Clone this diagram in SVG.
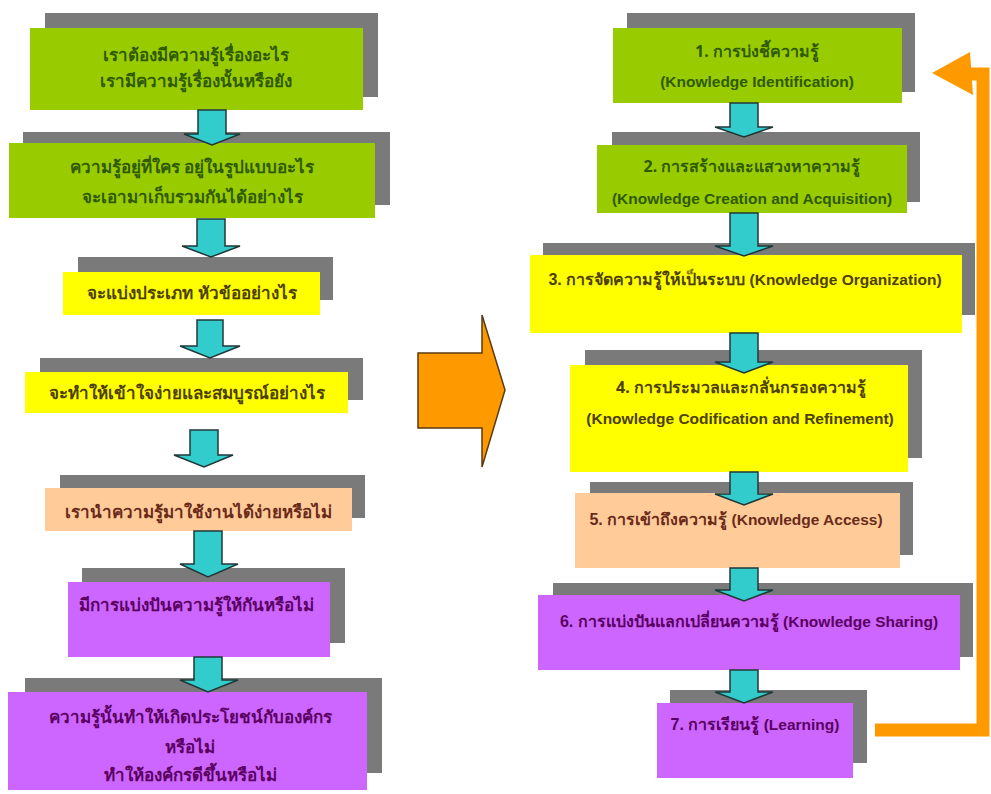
<svg xmlns="http://www.w3.org/2000/svg" width="991" height="794" viewBox="0 0 991 794">
<style>
.sh{fill:#7a7a7a}
.g{fill:#99cc00}
.y{fill:#ffff00}
.p{fill:#ffcc99}
.v{fill:#cc66ff}
text{font-family:"Noto Sans","DejaVu Sans","Liberation Sans",sans-serif;font-weight:bold;text-anchor:middle}
.th{font-size:17px}
.tr{font-size:16px}
.en{font-size:15.5px;font-family:"Liberation Sans",Arial,sans-serif}
.tg{fill:#2f5a00}
.ty{fill:#4d4000}
.tp{fill:#6a2a1a}
.tv{fill:#5a0060}
.ca{fill:#33cccc;stroke:#203838;stroke-width:1.5}
</style>
<rect width="991" height="794" fill="#ffffff"/>
<g id="L1"><rect class="sh" x="45" y="13" width="333" height="84"/><rect class="g" x="30" y="28" width="333" height="82"/>
<text class="th tg" x="196" y="61">เราต้องมีความรู้เรื่องอะไร</text><text class="th tg" x="196" y="87">เรามีความรู้เรื่องนั้นหรือยัง</text></g>
<g id="L2"><rect class="sh" x="23" y="132" width="367" height="73"/><rect class="g" x="9" y="143" width="366" height="75"/>
<text class="th tg" x="192" y="173">ความรู้อยู่ที่ใคร  อยู่ในรูปแบบอะไร</text><text class="th tg" x="192" y="203">จะเอามาเก็บรวมกันได้อย่างไร</text></g>
<g id="L3"><rect class="sh" x="78" y="257" width="255" height="43"/><rect class="y" x="63" y="272" width="257" height="43"/>
<text class="th ty" x="192" y="299">จะแบ่งประเภท หัวข้ออย่างไร</text></g>
<g id="L4"><rect class="sh" x="40" y="358" width="323" height="42"/><rect class="y" x="25" y="372" width="323" height="41"/>
<text class="th ty" x="187" y="399">จะทำให้เข้าใจง่ายและสมบูรณ์อย่างไร</text></g>
<g id="L5"><rect class="sh" x="60" y="475" width="305" height="43"/><rect class="p" x="45" y="488" width="307" height="43"/>
<text class="th tp" x="198" y="518">เรานำความรู้มาใช้งานได้ง่ายหรือไม่</text></g>
<g id="L6"><rect class="sh" x="82" y="568" width="263" height="75"/><rect class="v" x="68" y="582" width="262" height="75"/>
<text class="th tv" x="196" y="611">มีการแบ่งปันความรู้ให้กันหรือไม่</text></g>
<g id="L7"><rect class="sh" x="25" y="678" width="357" height="95"/><rect class="v" x="8" y="692" width="359" height="98"/>
<text class="th tv" x="190" y="723">ความรู้นั้นทำให้เกิดประโยชน์กับองค์กร</text><text class="th tv" x="190" y="753">หรือไม่</text><text class="th tv" x="190" y="781">ทำให้องค์กรดีขึ้นหรือไม่</text></g>
<g id="R1"><rect class="sh" x="627" y="13" width="288" height="79"/><rect class="g" x="613" y="28" width="289" height="75"/>
<text class="tr tg" x="757" y="57">1. การบ่งชี้ความรู้</text><text class="en tg" x="757" y="87">(Knowledge Identification)</text></g>
<g id="R2"><rect class="sh" x="612" y="132" width="308" height="70"/><rect class="g" x="597" y="145" width="310" height="68"/>
<text class="tr tg" x="752" y="172">2. การสร้างและแสวงหาความรู้</text><text class="en tg" x="752" y="204">(Knowledge Creation and Acquisition)</text></g>
<g id="R3"><rect class="sh" x="543" y="243" width="432" height="72"/><rect class="y" x="530" y="255" width="432" height="78"/>
<text class="en ty" x="745" y="285"><tspan class="tr">3. การจัดความรู้ให้เป็นระบบ</tspan> (Knowledge Organization)</text></g>
<g id="R4"><rect class="sh" x="585" y="350" width="337" height="108"/><rect class="y" x="570" y="365" width="338" height="107"/>
<text class="tr ty" x="741" y="393">4. การประมวลและกลั่นกรองความรู้</text><text class="en ty" x="740" y="424">(Knowledge Codification and Refinement)</text></g>
<g id="R5"><rect class="sh" x="590" y="482" width="323" height="73"/><rect class="p" x="575" y="493" width="325" height="75"/>
<text class="en tp" x="736" y="525"><tspan class="tr">5. การเข้าถึงความรู้</tspan> (Knowledge Access)</text></g>
<g id="R6"><rect class="sh" x="553" y="583" width="420" height="74"/><rect class="v" x="538" y="595" width="422" height="75"/>
<text class="en tv" x="749" y="627"><tspan class="tr">6. การแบ่งปันแลกเปลี่ยนความรู้</tspan> (Knowledge Sharing)</text></g>
<g id="R7"><rect class="sh" x="670" y="690" width="197" height="73"/><rect class="v" x="657" y="703" width="196" height="75"/>
<text class="en tv" x="755" y="730"><tspan class="tr">7. การเรียนรู้</tspan> (Learning)</text></g>
<g id="BIG"><polygon points="418,353 482,353 482,315 505,390 482,467 482,428 418,428" fill="#ff9900" stroke="#5a3a10" stroke-width="1.5"/></g>
<g id="connectors">
<polygon class="ca" points="198,110 226,110 226,134 240,134 212,145 184,134 198,134"/>
<polygon class="ca" points="197,219 225,219 225,246 240,246 211,257 182,246 197,246"/>
<polygon class="ca" points="197,320 223,320 223,346 240,346 210,358 180,346 197,346"/>
<polygon class="ca" points="190,430 218,430 218,455 233,455 204,467 174,455 190,455"/>
<polygon class="ca" points="194,531 222,531 222,564 238,564 208,577 180,564 194,564"/>
<polygon class="ca" points="194,657 222,657 222,680 238,680 208,692 180,680 194,680"/>
<polygon class="ca" points="730,103 758,103 758,127 773,127 744,137 715,127 730,127"/>
<polygon class="ca" points="730,213 758,213 758,246 773,246 744,256 715,246 730,246"/>
<polygon class="ca" points="730,333 758,333 758,362 773,362 744,373 715,362 730,362"/>
<polygon class="ca" points="730,472 758,472 758,494 773,494 744,505 715,494 730,494"/>
<polygon class="ca" points="730,568 758,568 758,590 773,590 744,601 715,590 730,590"/>
<polygon class="ca" points="730,670 758,670 758,692 773,692 744,703 715,692 730,692"/>
<path d="M875,730 H983 V74 H968" fill="none" stroke="#ff9900" stroke-width="13"/>
<polygon points="932,73 970,52 973,95" fill="#ff9900"/>
</g>
</svg>
